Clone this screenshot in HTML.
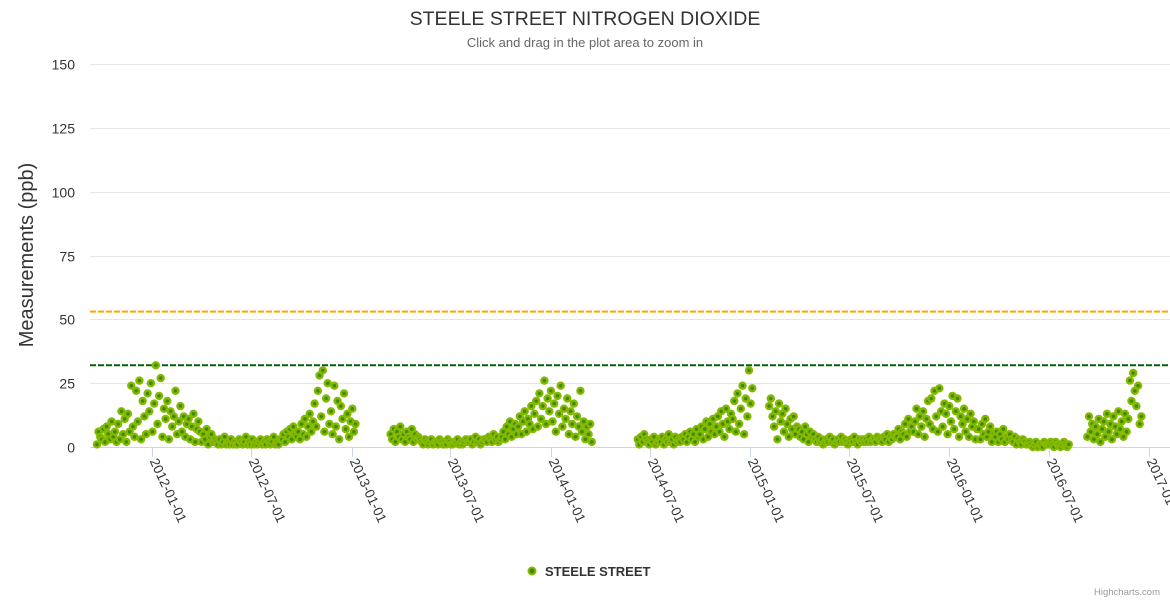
<!DOCTYPE html>
<html><head><meta charset="utf-8"><style>
html,body{margin:0;padding:0;background:#fff;}
svg{display:block;font-family:"Liberation Sans","DejaVu Sans",sans-serif;}
</style></head><body>
<svg id="chart" width="1170" height="600" viewBox="0 0 1170 600">
<text x="585" y="25" text-anchor="middle" font-size="19.5" fill="#333">STEELE STREET NITROGEN DIOXIDE</text>
<text x="585" y="47" text-anchor="middle" font-size="13" fill="#666">Click and drag in the plot area to zoom in</text>
<text transform="translate(33,255) rotate(-90)" text-anchor="middle" font-size="20" fill="#333">Measurements (ppb)</text>
<g id="grid"></g>
<g id="yticks"></g>
<g id="xaxis"></g>
<g id="plotlines"></g>
<g id="points"></g>
<g>
<circle cx="532" cy="571" r="3.5" fill="#3d8c00" stroke="#85b800" stroke-width="2"/>
<text x="545" y="576" font-size="13" font-weight="bold" fill="#333">STEELE STREET</text>
</g>
<text x="1160" y="595" text-anchor="end" font-size="9.5" fill="#999">Highcharts.com</text>
</svg>
<script>
const yTicks=[0,25,50,75,100,125,150];
const xTickLabels=["2012-01-01","2012-07-01","2013-01-01","2013-07-01","2014-01-01","2014-07-01","2015-01-01","2015-07-01","2016-01-01","2016-07-01","2017-01-01"];
const thresholds=[53,32];
const segmentStarts=["2011-09-22","2013-03-13","2014-06-09","2015-02-05","2016-09-10"];
const stepDays=3;
const seg1=[1,6,4,3,7,2,8,5,3,10,4,6,2, 9,3,14,5,11,2,13,6,24,8, 4,22,10,26,3,18,12,5,21,14, 25,6,17,32,9,20,27,4,15,11, 18,3,14,8,12,22,5,10,16,6, 12,4,9,11,3,8,13,2,7,10, 6,2,5,3,7,1,4,5,2,3,
2,1,3,1,2,4,1,2,1,3, 1,2,1,1,3,2,1,2,4,1, 2,1,3,1,2,1,2,3,1,2, 1,3,2,1,2,4,1,2,1,3,
3,5,2,6,4,7,3,8,5,4, 6,3,9,5,11,4,8,13,6,10, 17,8,22,28,12,30,6,19,25,9, 14,5,24,8,18,3,16,11,21,7,13,4,10,15,6,9];
const seg2=[5,3,7,2,6,4,8,3,5,2,6,4,3,7,2,5,3,4,
3,2,1,3,2,1,2,3,1,2, 2,1,3,2,1,2,1,3,2,1, 1,2,2,3,1,2,1,2,3,2, 2,3,1,2,4,2,3,1,2,3, 3,2,4,3,2,5,3,4,2,3,
4,6,3,8,5,10,4,7,9,5, 8,12,5,10,14,6,11,9,16,7, 13,18,8,21,11,16,26,9,19,14, 22,10,17,6,20,13,24,8,15,11, 19,5,14,9,17,4,12,8,22,6, 10,3,8,5,9,2];
const seg3=[3,1,4,2,5,3,2,1,3,2,4,1,2,3,2,4,1,3,2,5,2,3,1,4,2,3,2,4,
3,5,2,4,6,3,5,2,7,4, 5,8,3,7,10,4,9,6,11,5, 8,12,6,14,9,4,15,10,7,13, 11,18,6,21,9,15,24,5,19,12, 30,17,23];
const seg4=[16,19,12,8,14,3,17,10, 13,6,15,9,4,11,7,12,5,8, 7,4,6,3,8,5,2,6,4,5,
3,2,4,2,3,1,2,3,2,4, 2,3,1,2,3,2,4,2,3,2, 1,2,3,2,4,2,1,3,2,3, 2,3,2,4,2,3,3,2,4,3, 3,2,4,3,5,2,4,3,5,4,
4,7,3,6,5,9,4,11,6,8, 6,10,15,5,12,8,14,4,11,18, 9,19,7,22,12,6,23,14,8,17, 13,5,16,10,20,7,14,19,4,12,
9,15,6,11,4,13,8,10,3,7, 7,3,9,5,11,4,6,8,2,5, 4,6,2,5,3,7,2,4,3,5, 3,2,4,1,3,2,1,3,2,1,
1,2,1,0,1,2,0,1,1,0,2,1,1, 1,2,1,0,2,1,1,0,1,2,1,0,1];
const seg5=[4,12,6,9,3,8,5,11,2,7,10,4,13,6,9,3,12,8,5,14,7,10,4,13,6,11,26,18,29,22,16,24,9,12];
const segments=[seg1,seg2,seg3,seg4,seg5];

const NS="http://www.w3.org/2000/svg";
const X0=90,X1=1170,Y0=447,Y150=64;
const origin=Date.UTC(2012,0,1), endRef=Date.UTC(2017,0,1);
const xPx0=152,xPx1=1149;
function xScale(t){return xPx0+(t-origin)/(endRef-origin)*(xPx1-xPx0);}
function yScale(v){return Y0-v/150*(Y0-Y150);}
function parseD(s){const p=s.split("-");return Date.UTC(+p[0],+p[1]-1,+p[2]);}
function mk(tag,attrs,parent){const e=document.createElementNS(NS,tag);for(const k in attrs)e.setAttribute(k,attrs[k]);parent.appendChild(e);return e;}

const grid=document.getElementById("grid"),yt=document.getElementById("yticks");
yTicks.forEach(v=>{
  const y=Math.round(yScale(v))+0.5;
  if(v>0){const l=mk("line",{x1:X0,x2:X1,y1:y,y2:y,stroke:"#e6e6e6","stroke-width":1},grid);
  
  }
  const t=mk("text",{x:75,y:y+5,"text-anchor":"end","font-size":14,fill:"#333"},yt);
  t.textContent=v;
  
  
});
const xa=document.getElementById("xaxis");
const axl=mk("line",{x1:X0,x2:X1,y1:Y0+0.5,y2:Y0+0.5,stroke:"#ccd6eb","stroke-width":1},xa);


xTickLabels.forEach(s=>{
  const x=Math.round(xScale(parseD(s)))+0.5;
  const tk=mk("line",{x1:x,x2:x,y1:Y0,y2:Y0+10,stroke:"#ccd6eb","stroke-width":1},xa);
  
  
  const t=mk("text",{transform:"translate("+(x-3)+","+(Y0+14)+") rotate(65)","font-size":13.5,fill:"#333"},xa);
  t.textContent=s;
  
  
});
const pl=document.getElementById("plotlines");
const plColors=["#ffa500","#006400"];
thresholds.forEach((v,i)=>{
  const y=yScale(v);
  const l=mk("line",{x1:X0,x2:X1,y1:y,y2:y,stroke:plColors[i],"stroke-width":2,"stroke-dasharray":"6,2"},pl);
  
  
});
const pts=document.getElementById("points");
segments.forEach((seg,si)=>{
  const st=parseD(segmentStarts[si]);
  seg.forEach((v,i)=>{
    const t=st+i*stepDays*86400000;
    const c=mk("circle",{cx:xScale(t).toFixed(1),cy:yScale(v).toFixed(1),r:3,fill:"#3d8c00",stroke:"#85b800","stroke-width":2.4},pts);
    
    
  });
});
</script>
</body></html>
